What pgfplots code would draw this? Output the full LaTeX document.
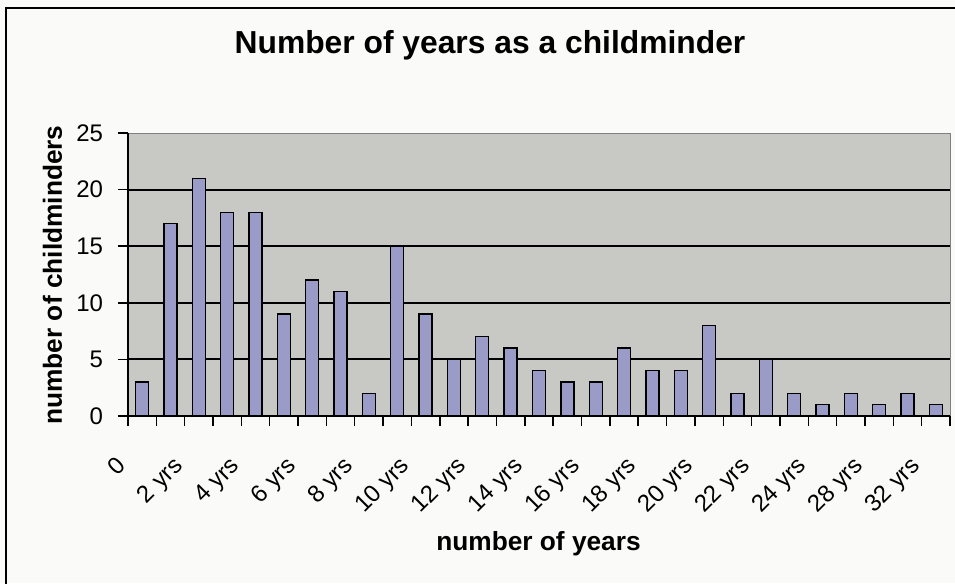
\documentclass[border=0pt]{standalone}
\usepackage{fontspec}
\setmainfont{Liberation Sans}
\usepackage{pgfplots}
\usepackage{pgfplotstable}
\pgfplotsset{compat=1.18}

\definecolor{plotbg}{RGB}{200,200,196}
\definecolor{barfill}{RGB}{155,155,200}
\definecolor{pagebg}{RGB}{250,250,248}

\newcommand{\xl}[1]{{\fontsize{18}{21}\selectfont #1}}

% category index (years), number of childminders
\pgfplotstableread{
cat count
0 3
1 17
2 21
3 18
4 18
5 9
6 12
7 11
8 2
9 15
10 9
11 5
12 7
13 6
14 4
15 3
16 3
17 6
18 4
19 4
20 8
21 2
22 5
23 2
24 1
25 2
26 1
27 2
28 1
}\yearsdata

\begin{document}
\begin{tikzpicture}
\useasboundingbox (0,0) rectangle (716.25pt,437.25pt);
\fill[pagebg] (0,0) rectangle (716.25pt,437.25pt);
\draw[black, line width=1.5pt] (4.5pt,-5pt) -- (4.5pt,431.25pt) -- (730pt,431.25pt);
\begin{axis}[
  at={(96pt,125.25pt)}, anchor=south west,
  scale only axis, width=616.5pt, height=212.25pt,
  ybar, bar width=9.75pt,
  xmin=-0.5, xmax=28.5, ymin=0, ymax=25,
  axis x line*=bottom, axis y line*=left,
  axis line style={-, black, line width=1.1pt},
  axis background/.style={fill=plotbg, draw=gray, line width=0.75pt},
  tick align=outside, major tick length=7.5pt,
  tick style={black, line width=1.1pt},
  /pgf/number format/assume math mode=true,
  % tick marks sit between the categories; each label hangs from the
  % left edge of its category and is shifted under the bar
  xtick={-0.5,0.5,...,28.5},
  xticklabels={\xl{0},{},\xl{2 yrs},{},\xl{4 yrs},{},\xl{6 yrs},{},\xl{8 yrs},{},
    \xl{10 yrs},{},\xl{12 yrs},{},\xl{14 yrs},{},\xl{16 yrs},{},\xl{18 yrs},{},
    \xl{20 yrs},{},\xl{22 yrs},{},\xl{24 yrs},{},\xl{28 yrs},{},\xl{32 yrs},{}},
  x tick label style={xshift=-9.6pt, yshift=-21.75pt, rotate=45, anchor=north east,
    inner sep=0pt},
  ytick={0,5,...,25},
  yticklabel style={font=\fontsize{18}{21}\selectfont, anchor=east, inner sep=0pt, xshift=-11pt},
  extra y ticks={5,10,15,20}, extra y tick labels={},
  extra y tick style={grid=major, tick style={draw=none}},
  major grid style={black, line width=1.5pt},
  title={Number of years as a childminder},
  title style={at={(axis description cs:0.4404,1.2509)}, anchor=base,
    font=\fontsize{23.85}{28}\selectfont\bfseries},
  xlabel={number of years},
  xlabel style={at={(axis description cs:0.4994,-0.4735)}, anchor=base,
    font=\fontsize{19.7}{23}\selectfont\bfseries},
  ylabel={number of childminders},
  ylabel style={at={(axis description cs:-0.0803,0.4982)}, anchor=base,
    font=\fontsize{19.7}{23}\selectfont\bfseries},
]
\addplot[fill=barfill, draw=black, line width=1pt] table[x=cat, y=count] {\yearsdata};
\end{axis}
\end{tikzpicture}
\end{document}
